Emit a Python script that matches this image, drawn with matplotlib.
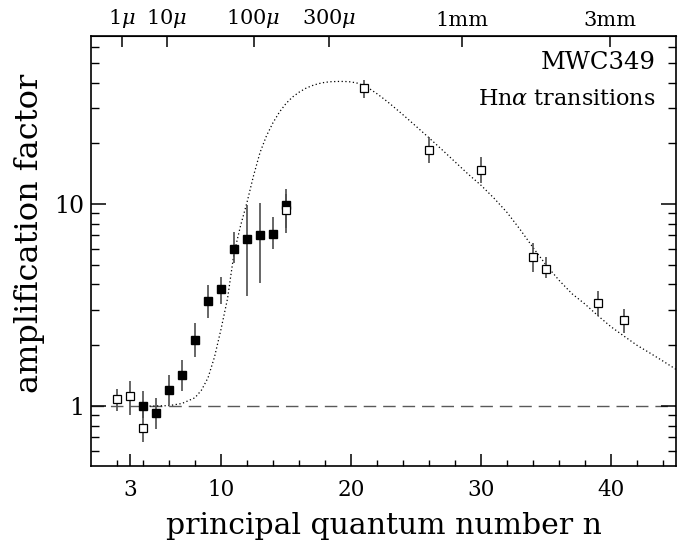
import matplotlib
matplotlib.use("Agg")
import matplotlib.pyplot as plt
from matplotlib.ticker import FixedLocator, NullFormatter
import numpy as np

plt.rcParams['font.family'] = ['DejaVu Serif']
plt.rcParams['mathtext.fontset'] = 'dejavuserif'

# ---- data ----
open_n = [2, 3, 4, 15, 21, 26, 30, 34, 35, 39, 41]
open_v = [1.08, 1.12, 0.776, 9.3, 37.5, 18.5, 14.7, 5.5, 4.8, 3.25, 2.67]
open_lo = [0.945, 0.90, 0.666, 7.6, 33.5, 16.0, 12.7, 4.6, 4.3, 2.8, 2.3]
open_hi = [1.22, 1.33, 0.95, 11.2, 41.0, 21.6, 17.1, 6.4, 5.47, 3.7, 3.02]

filled_n = [4, 5, 6, 7, 8, 9, 10, 11, 12, 13, 14, 15]
filled_v = [1.0, 0.927, 1.2, 1.42, 2.12, 3.31, 3.79, 6.0, 6.73, 7.05, 7.13, 9.9]
filled_lo = [0.87, 0.77, 1.01, 1.19, 1.75, 2.73, 3.2, 5.1, 3.5, 4.05, 5.97, 7.16]
filled_hi = [1.19, 1.10, 1.43, 1.69, 2.57, 3.97, 4.35, 7.3, 9.9, 10.1, 8.6, 11.9]

model_n = [4.5, 6.0, 7.0, 8.0, 8.5, 9.0, 9.5, 10.0, 10.5, 11.0, 11.5, 12.0, 12.5,
           13.0, 13.5, 14.0, 14.5, 15.0, 15.5, 16.0, 16.5, 17.0, 17.5, 18.0,
           18.5, 19.0, 19.5, 20.0, 20.5, 21.0, 21.5, 22.0, 22.5, 23.0, 24.0,
           25.0, 26.0, 27.0, 28.0, 29.0, 30.0, 31.0, 32.0, 33.0, 34.0, 35.0,
           36.0, 37.0, 38.0, 39.0, 40.0, 41.0, 42.0, 43.0, 44.0, 45.0]
model_v = [1.0, 1.005, 1.03, 1.1, 1.2, 1.38, 1.75, 2.4, 3.4, 5.7, 7.8, 10.2, 13.8,
           18.0, 21.8, 25.3, 28.6, 31.5, 33.9, 35.8, 37.4, 38.6, 39.5, 40.1,
           40.4, 40.5, 40.5, 40.3, 39.7, 38.6, 37.0, 35.2, 33.3, 31.4, 27.7,
           24.3, 21.3, 18.6, 16.2, 14.1, 12.4, 10.7, 9.1, 7.5, 6.1, 5.0,
           4.2, 3.6, 3.2, 2.8, 2.47, 2.22, 2.0, 1.83, 1.67, 1.52]

xmajor = [3, 10, 20, 30, 40]
xmajor_labels = ['3', '10', '20', '30', '40']
xminor = [2, 4, 6, 8, 12, 14, 16, 18, 22, 24, 26, 28, 32, 34, 36, 38, 42, 44]

wave_pos = [2.36, 5.82, 12.5, 18.3, 28.5, 39.9]
wave_labels = [r'1$\mu$', r'10$\mu$', r'100$\mu$', r'300$\mu$', '1mm', '3mm']

# ---- figure ----
fig = plt.figure(figsize=(6.85, 5.42), dpi=100)
ax = fig.add_axes([91/685, 76/542, (676-91)/685, (466-36)/542])
ax.set_yscale('log')
ax.set_xlim(0, 45)
ax.set_ylim(0.505, 68)

ax.axhline(1.0, color='0.35', lw=1.0, dashes=(9, 5), zorder=1)
ax.plot(model_n, model_v, color='black', lw=0.9, linestyle=(0, (1, 2)), zorder=2)

err_kw = dict(fmt='none', ecolor='0.3', elinewidth=1.2, capsize=0, zorder=3)
ax.errorbar(filled_n, filled_v,
            yerr=[np.subtract(filled_v, filled_lo), np.subtract(filled_hi, filled_v)], **err_kw)
ax.errorbar(open_n, open_v,
            yerr=[np.subtract(open_v, open_lo), np.subtract(open_hi, open_v)], **err_kw)
ax.plot(filled_n, filled_v, 's', color='black', ms=6, zorder=4)
ax.plot(open_n, open_v, 's', mfc='white', mec='black', mew=0.9, ms=5.5, zorder=5)

# ticks
ax.set_xticks(xmajor)
ax.set_xticklabels(xmajor_labels)
ax.xaxis.set_minor_locator(FixedLocator(xminor))
ax.get_xaxis().get_major_ticks()[0].tick1line.set_visible(False)
ax.yaxis.set_major_locator(FixedLocator([1, 10]))
ax.set_yticklabels(['1', '10'])
ax.yaxis.set_minor_locator(FixedLocator([0.6, 0.7, 0.8, 0.9, 2, 3, 4, 5, 6, 7, 8, 9, 20, 30, 40, 50, 60]))
ax.yaxis.set_minor_formatter(NullFormatter())

ax.tick_params(axis='x', which='major', direction='in', length=9, width=1.1,
               top=False, bottom=True, labelsize=15.5, pad=9)
ax.tick_params(axis='x', which='minor', direction='in', length=4, width=1.0,
               top=False, bottom=True)
ax.tick_params(axis='y', which='major', direction='in', length=11, width=1.1,
               left=True, right=True, labelsize=17, pad=5)
ax.tick_params(axis='y', which='minor', direction='in', length=6, width=1.0,
               left=True, right=True)

for s in ax.spines.values():
    s.set_linewidth(1.2)

top = ax.secondary_xaxis('top')
top.set_xticks(wave_pos)
top.set_xticklabels(wave_labels)
top.tick_params(axis='x', direction='in', length=8, width=1.1, labelsize=15, pad=4)
top.xaxis.set_minor_locator(FixedLocator([]))

ax.set_xlabel('principal quantum number n', fontsize=21.5, labelpad=8)
ax.set_ylabel('amplification factor', fontsize=23)
ax.yaxis.set_label_coords(-0.078, 0.542)

ax.text(0.965, 0.965, 'MWC349', transform=ax.transAxes, ha='right', va='top', fontsize=17.5)
ax.text(0.965, 0.878, r'Hn$\alpha$ transitions', transform=ax.transAxes, ha='right', va='top', fontsize=16)

fig.savefig('out.png', dpi=100)
